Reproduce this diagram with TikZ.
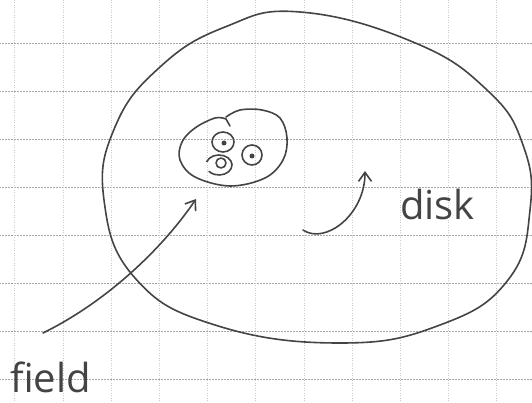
\documentclass[tikz,border=0pt]{standalone}
\usepackage{fontspec}
\setmainfont{Open Sans}
\usepackage{tikz}
\usetikzlibrary{arrows.meta,positioning,calc}
\definecolor{ink}{HTML}{444444}
\definecolor{paper}{HTML}{A8A8A8}

\begin{document}
\begin{tikzpicture}[x=1pt, y=-1pt, every node/.style={font=\fontsize{40}{44}\selectfont, text=ink, inner sep=0pt},
  stroke/.style={ink, line width=1.6pt, line cap=round, line join=round},
  pointer/.style={stroke, -{Straight Barb[length=9pt,width=13pt]}}]
  \useasboundingbox (0,0) rectangle (532,403);
  \foreach \r in {0,...,7} {
    \draw[paper, densely dotted, line width=0.5pt] (0,{43+48.1*\r}) -- (532,{43+48.1*\r});
  }
  \foreach \c in {0,...,10} {
    \draw[paper!60, dotted, line width=0.5pt] ({14.7+48.2*\c},0) -- ({14.7+48.2*\c},403);
  }
  \draw[stroke] plot[smooth cycle, tension=0.75] coordinates {
    (300,12) (413,42) (487,90) (523,145) (530,210) (508,280) (440,325)
    (340,343) (215,325) (135,278) (104,200) (115,127) (160,67) (225,27)};
  \begin{scope}
    \draw[stroke] plot[smooth, tension=0.6] coordinates {
      (226,117) (240,110) (262,110) (280,118) (287,138) (283,160) (265,178)
      (230,186) (195,177) (180,160) (182,142) (195,128) (215,118) (226,119)};
    \draw[stroke] (226,119) -- (230,126);
    \draw[stroke] (223,142) ellipse (11 and 10);
    \fill[ink] (224,143) circle (2.5);
    \draw[stroke] (252,155) circle (10);
    \fill[ink] (252,156) circle (2.5);
    \draw[stroke] (219,165) ++(200:13 and 10) arc (200:500:13 and 10);
    \draw[stroke] (221,163) circle (5);
  \end{scope}
  \node[anchor=base west] (field) at (10,392) {field};
  \node[anchor=base west] (disk) at (400,219) {disk};
  \coordinate (fieldtail) at (43,333);
  \coordinate (fieldtip) at (196,199);
  \coordinate (disktail) at (303,230);
  \coordinate (disktip) at (365,171);
  \draw[pointer] (fieldtail) .. controls (110,300) and (165,245) .. (fieldtip);
  \draw[pointer] (disktail) .. controls (325,245) and (365,215) .. (disktip);
\end{tikzpicture}
\end{document}
